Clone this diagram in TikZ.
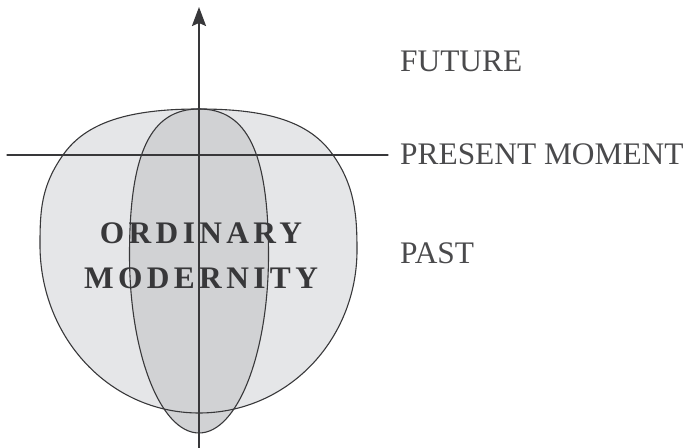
\documentclass[tikz,border=0pt]{standalone}
\usepackage{fontspec}
\setmainfont{Liberation Serif}
\newfontfamily\tracked[LetterSpace=14]{Liberation Serif}
\usetikzlibrary{arrows.meta}
\definecolor{shell}{HTML}{E5E6E8}
\definecolor{core}{HTML}{D1D2D4}
\definecolor{ink}{HTML}{38383A}
\definecolor{label}{HTML}{4A4A4C}
\newcommand{\LabelSize}{\fontsize{31.5}{31.5}\selectfont}
\newcommand{\Edge}{1.1bp}

\begin{document}
\begin{tikzpicture}[x=1bp,y=1bp, line join=round, line cap=round]
  \useasboundingbox (0,0) rectangle (687,448);

  % ---- the wide blob ------------------------------------------------------
  \fill[shell] (199,339) .. controls (269,339) and (310,325.8) .. (333,293)
    .. controls (354.8,261.9) and (357,233) .. (357,198)
    .. controls (357,108) and (287.5,35) .. (199,35)
    .. controls (110,35) and (40,110.3) .. (40,203)
    .. controls (40,238) and (41.2,261.9) .. (63,293)
    .. controls (86,325.8) and (129,339) .. (199,339) -- cycle;

  % ---- the narrow core ----------------------------------------------------
  \fill[core] (199,339) .. controls (247.5,339) and (268.5,295) .. (268.5,193)
    .. controls (268.5,94.7) and (237.5,15) .. (199,15)
    .. controls (160.5,15) and (129.5,94.7) .. (129.5,193)
    .. controls (129.5,295) and (150.5,339) .. (199,339) -- cycle;

  % ---- the name -----------------------------------------------------------
  \node[anchor=base, inner sep=0, text=ink, font=\LabelSize\tracked\bfseries]
    (ordinary) at (201,204.7) {ORDINARY};
  \node[anchor=base, inner sep=0, text=ink, font=\LabelSize\tracked\bfseries]
    (modernity) at (201,159) {MODERNITY};

  % ---- outlines over the text ---------------------------------------------
  \draw[ink,line width=\Edge] (199,339) .. controls (269,339) and (310,325.8) .. (333,293)
    .. controls (354.8,261.9) and (357,233) .. (357,198)
    .. controls (357,108) and (287.5,35) .. (199,35)
    .. controls (110,35) and (40,110.3) .. (40,203)
    .. controls (40,238) and (41.2,261.9) .. (63,293)
    .. controls (86,325.8) and (129,339) .. (199,339) -- cycle;
  \draw[ink,line width=\Edge] (199,339) .. controls (247.5,339) and (268.5,295) .. (268.5,193)
    .. controls (268.5,94.7) and (237.5,15) .. (199,15)
    .. controls (160.5,15) and (129.5,94.7) .. (129.5,193)
    .. controls (129.5,295) and (150.5,339) .. (199,339) -- cycle;

  % ---- present moment and time --------------------------------------------
  \coordinate (nowL) at (7,293);
  \coordinate (nowR) at (388,293);
  \draw[ink,line width=1.2bp] (nowL) -- (nowR);
  \coordinate (then) at (199,0);
  \coordinate (later) at (199,441);
  \draw[ink,line width=2bp,-{Stealth[length=19bp,width=14bp,inset=3bp]}] (then) -- (later);

  % ---- labels -------------------------------------------------------------
  \node[anchor=base west, inner sep=0, text=label, font=\LabelSize] (future) at (400,376.3) {FUTURE};
  \node[anchor=base west, inner sep=0, text=label, font=\LabelSize] (present) at (400,283) {PRESENT MOMENT};
  \node[anchor=base west, inner sep=0, text=label, font=\LabelSize] (past) at (400,184.7) {PAST};

\end{tikzpicture}
\end{document}
